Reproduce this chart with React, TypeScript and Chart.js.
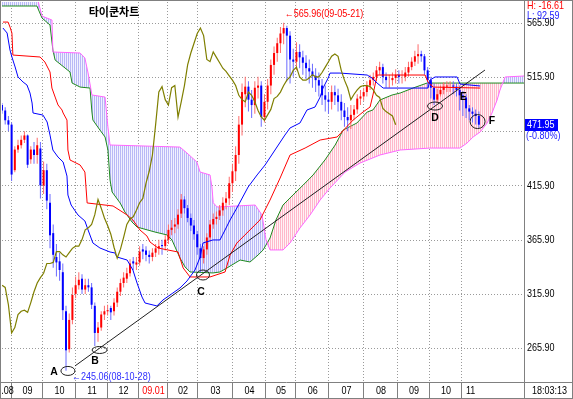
import React, { useEffect, useRef } from 'react';
import { Chart, registerables } from 'chart.js';
Chart.register(...registerables);

// ---------- data ----------
const monthLabels = ['.08', '09', '10', '11', '12', '09.01', '02', '03', '04', '05', '06', '07', '08', '09', '10', '11'];
// period index where each month (from the 2nd label on) begins
const monthStarts = [2.8, 12.5, 22.8, 32.8, 42.5, 51.6, 60.9, 71.9, 82.2, 91.6, 101.9, 112.8, 123.4, 133.4, 143.4];
const yTicks = [265.9, 315.9, 365.9, 415.9, 465.9, 515.9, 565.9];
const hiddenTick = 465.9; // covered by the last-price box

const opens = [
  490, 485, 476, 472, 430, 449, 453, 458, 462, 440,
  449, 444, 450, 416, 430, 400, 372, 350, 346, 336,
  300, 265, 292, 316, 324, 330, 320, 324, 322, 305,
  280, 285, 297, 300, 303, 300, 308, 318, 326, 330,
  335, 346, 343, 345, 357, 356, 352, 350, 354, 358,
  361, 360, 366, 375, 378, 380, 390, 403, 395, 386,
  379, 371, 358, 349, 357, 368, 380, 385, 388, 393,
  400, 404, 418, 429, 444, 472, 500, 507, 495, 490,
  506, 508, 479, 493, 508, 527, 538, 547, 556, 561,
  554, 532, 530, 539, 534, 529, 524, 521, 517, 513,
  508, 499, 495, 493, 502, 499, 493, 485, 479, 476,
  481, 486, 496, 498, 502, 508, 513, 516, 522, 525,
  516, 513, 513, 515, 518, 516, 516, 520, 525, 530,
  535, 537, 535, 522, 513, 506, 495, 500, 504, 507,
  508, 508, 507, 504, 499, 497, 487, 484, 482, 480,
];
const highs = [
  492, 488, 480, 474, 452, 458, 462, 466, 463, 452,
  456, 460, 456, 438, 436, 408, 380, 362, 354, 344,
  305, 298, 322, 332, 336, 334, 330, 330, 326, 308,
  290, 300, 305, 306, 305, 312, 322, 330, 336, 340,
  348, 350, 350, 360, 362, 360, 356, 358, 362, 366,
  366, 370, 380, 384, 386, 394, 408, 406, 398, 390,
  384, 374, 362, 360, 372, 384, 390, 392, 398, 405,
  410, 424, 436, 452, 480, 510, 516, 512, 504, 512,
  516, 512, 500, 514, 532, 544, 552, 562, 565.96, 563,
  558, 542, 548, 546, 540, 536, 532, 528, 524, 520,
  514, 508, 502, 508, 508, 505, 500, 492, 488, 490,
  490, 500, 504, 506, 512, 518, 520, 526, 530, 528,
  520, 518, 520, 523, 522, 522, 525, 530, 534, 540,
  546, 540, 537, 525, 516, 510, 505, 508, 511, 512,
  512, 512, 510, 508, 503, 500, 490, 488, 486, 484,
];
const lows = [
  482, 472, 466, 420, 428, 446, 450, 455, 432, 436,
  436, 436, 404, 408, 394, 358, 340, 332, 328, 292,
  245.06, 262, 288, 312, 320, 316, 316, 318, 302, 268,
  272, 282, 292, 296, 292, 296, 304, 314, 322, 326,
  332, 338, 338, 342, 348, 346, 344, 346, 350, 352,
  352, 356, 362, 370, 372, 376, 386, 390, 382, 374,
  366, 352, 336, 344, 352, 364, 376, 380, 384, 388,
  394, 398, 410, 420, 436, 462, 488, 484, 478, 482,
  496, 470, 474, 486, 500, 518, 530, 538, 546, 512,
  510, 516, 522, 524, 518, 514, 510, 506, 502, 498,
  490, 484, 482, 486, 490, 484, 476, 470, 466, 468,
  476, 482, 490, 494, 498, 504, 508, 512, 518, 510,
  506, 506, 508, 510, 510, 510, 512, 516, 522, 526,
  528, 530, 518, 506, 496, 490, 492, 498, 500, 502,
  502, 500, 498, 485, 480, 478, 476, 474, 472, 469,
];
const closes = [
  485, 476, 472, 426, 449, 453, 458, 462, 435, 449,
  444, 453, 416, 430, 402, 370, 352, 345, 338, 301,
  264, 292, 315, 324, 329, 320, 324, 322, 306, 280,
  285, 297, 300, 301, 299, 308, 318, 326, 331, 335,
  344, 344, 345, 355, 355, 352, 350, 354, 358, 360,
  360, 366, 375, 377, 380, 389, 403, 395, 386, 379,
  371, 359, 349, 357, 368, 380, 385, 387, 393, 400,
  404, 418, 429, 444, 472, 502, 507, 495, 490, 506,
  508, 479, 493, 508, 527, 538, 547, 556, 561, 554,
  532, 530, 539, 534, 529, 524, 521, 517, 513, 508,
  499, 495, 493, 502, 499, 493, 485, 479, 476, 481,
  486, 496, 498, 502, 508, 513, 516, 522, 525, 516,
  513, 513, 515, 518, 516, 516, 520, 525, 530, 535,
  537, 535, 522, 513, 506, 495, 500, 504, 507, 508,
  508, 507, 504, 499, 497, 487, 484, 482, 480, 471.95,
];
const CHIKOU_SHIFT = 26;

const tenkan: [number, number][] = [
  [0.3, 561.0], [1.6, 556.4], [2.5, 540.7], [3.1, 534.3], [4.1, 525.1], [5, 515.9], [6.6, 511.2], [7.8, 508.5],
  [8.75, 501.1], [9.4, 491.9], [9.7, 482.7], [12.8, 480.8], [14.1, 474.4], [15, 462.4], [15.9, 448.6], [17.5, 442.1],
  [19.1, 437.5], [20.3, 424.6], [20.6, 407.1], [21.6, 397.9], [23.75, 388.7], [25.9, 383.2], [26.9, 374.9],
  [28.4, 362.9], [30.6, 358.3], [33.75, 354.6], [35.3, 353.7], [35.9, 350.0], [39.1, 347.2], [40.9, 338.0],
  [42.2, 326.0], [43.75, 313.1], [44.7, 307.6], [48.4, 304.9], [50.3, 310.4], [53.4, 316.8], [55.6, 321.4],
  [57.8, 327.9], [60.3, 338.0], [61.9, 350.0], [62.8, 362.9], [65.9, 365.7], [68.1, 365.7], [69.7, 374.9],
  [71.25, 384.1], [73.4, 395.2], [76.9, 414.5], [79.7, 425.6], [82.2, 434.8], [85.3, 448.6], [88.4, 462.4],
  [90, 468.9], [93.1, 473.5], [95.3, 485.5], [97.8, 488.2], [99.4, 497.4], [100.3, 505.7], [101.9, 514.9],
  [102.5, 519.5], [105.6, 519.5], [114.1, 517.7], [115.6, 514.9], [117.2, 510.3], [119.1, 505.7], [133.1, 505.7],
  [133.75, 513.1], [135.3, 515.9], [142.2, 515.9], [143.1, 509.4], [149.4, 507.6],
];
const kijun: [number, number][] = [
  [0.3, 566.5], [1.9, 566.5], [2.5, 561.9], [3.1, 556.4], [3.4, 536.1], [11.9, 534.3], [13.4, 529.7], [15, 520.5],
  [15.6, 505.7], [16.6, 497.4], [17.5, 490.1], [18.75, 485.5], [19.1, 482.7], [20.3, 476.2], [20.6, 448.6],
  [21.25, 439.4], [24.4, 434.8], [25.9, 428.3], [26.6, 399.8], [34.7, 397.0], [39.1, 388.7], [40.9, 384.1],
  [43.1, 374.9], [45.3, 369.3], [46.25, 363.8], [48.75, 358.3], [55, 354.6], [56.6, 339.9], [58.75, 331.6],
  [65, 331.6], [69.7, 336.2], [71.25, 351.8], [73.4, 362.9], [75.9, 370.3], [80.6, 384.1], [83.75, 402.5],
  [86.9, 422.8], [90, 444.0], [94.7, 450.4], [99.4, 457.8], [104.7, 460.6], [109.7, 476.2], [112.8, 483.6],
  [115, 488.2], [115.9, 499.3], [117.2, 517.7], [132.2, 517.7], [133.1, 511.2], [134.7, 506.6], [149.4, 505.7],
];
const senkouA: [number, number][] = [
  [0, 581.3], [10.9, 581.3], [12.5, 570.2], [15, 563.8], [15.9, 540.7], [16.6, 531.5], [21.25, 520.5], [21.9, 510.3],
  [24.4, 506.6], [27.5, 505.7], [28.1, 483.6], [28.4, 476.2], [30.6, 467.0], [32.2, 460.6], [33.1, 448.6],
  [33.75, 421.0], [34.4, 409.9], [36.9, 399.8], [38.4, 391.5], [40.6, 382.3], [42.2, 377.6], [47.8, 373.0],
  [51.6, 370.3], [53.1, 365.7], [55.6, 349.1], [57.2, 340.8], [58.75, 336.2], [65.9, 335.3], [68.1, 336.2],
  [70.3, 339.9], [74.4, 347.2], [77.5, 345.4], [80, 351.8], [81.6, 356.5], [83.75, 367.5], [85.6, 384.1],
  [87.8, 397.9], [90.9, 407.1], [94.1, 416.3], [97.2, 425.6], [100.9, 439.4], [104.1, 453.2], [106.6, 467.0],
  [110.9, 473.5], [114.1, 483.6], [115.9, 485.5], [118.1, 494.7], [121.9, 499.3], [124.4, 501.1], [128.4, 505.7],
  [132.8, 510.3], [143.1, 510.3], [163.1, 510.3],
];
const senkouB: [number, number][] = [
  [0, 586], [11.25, 586], [12.5, 572], [15.6, 568.4], [15.9, 538.9], [24.4, 538.0], [25.9, 533.4], [26.9, 519.5],
  [28.1, 499.3], [32.2, 497.4], [33.1, 469.8], [33.75, 453.2], [55.6, 451.3], [57.8, 445.8], [60.9, 437.5],
  [61.9, 428.3], [65, 425.6], [65.6, 414.5], [66, 400], [67.2, 396.1], [79.1, 397.9], [81.25, 388.7], [82.5, 365.7],
  [83.75, 356.5], [87.8, 356.5], [90, 362.9], [93.1, 376.7], [96.25, 388.7], [99.4, 402.5], [102.5, 413.6],
  [107.2, 428.3], [111.9, 436.6], [118.1, 444.0], [124.4, 448.6], [133.75, 450.4], [143.1, 450.4], [145.3, 455.0],
  [147.2, 460.6], [149.4, 465.2], [151.6, 473.5], [153.1, 482.7], [154.7, 494.7], [155.6, 503.9], [157.2, 515.9],
  [163.1, 516.8],
];

// annotations (data coordinates)
const trendLine: [number, number][] = [[22.8, 249.6], [150.9, 522.3]];
const markerPoints: { label: string; at: [number, number]; rx: number; ry: number; text: [number, number] }[] = [
  { label: 'A', at: [20.6, 245.0], rx: 7, ry: 4.5, text: [16.25, 244.0] },
  { label: 'B', at: [30.5, 264.3], rx: 7.5, ry: 3.5, text: [29.1, 254.2] },
  { label: 'C', at: [62.8, 333.4], rx: 6.5, ry: 5, text: [62.2, 317.8] },
  { label: 'D', at: [135.3, 489.1], rx: 7.5, ry: 4, text: [135.3, 478.1] },
  { label: 'E', at: [144.1, 497.4], rx: 0, ry: 0, text: [144.1, 497.4] },
  { label: 'F', at: [148.6, 474.8], rx: 7.5, ry: 7, text: [153.1, 475.3] },
];
const highNote = { text: '\u2190565.96(09-05-21)', at: [88.0, 565.96] as [number, number] };
const lowNote = { text: '\u2190245.06(08-10-28)', at: [20.6, 245.06] as [number, number] };
const lastPrice = '471.95';
const lastChange = '(-0.80%)';
const hText = 'H: -16.61';
const lText = 'L: 92.59';
const timeText = '18:03:13';
const title = '타이쿤차트';

const X_MAX = 163.1;
const Y_MIN = 234.8;
const Y_MAX = 585;

const FAMILY = '"Liberation Sans", Arial, sans-serif';
const SX = 0.82; // horizontal squeeze to mimic the narrow bitmap font
const UP = '#ff0000';
const DOWN = '#0000ff';
const UP_WICK = '#ff6a6a';
const DOWN_WICK = '#6a6aff';

function txt(ctx: CanvasRenderingContext2D, s: string, x: number, y: number, color: string, align: CanvasTextAlign = 'left', size = 11, bold = false, sx = SX) {
  ctx.save();
  ctx.fillStyle = color;
  ctx.font = `${bold ? 'bold ' : ''}${size}px ${FAMILY}`;
  ctx.textBaseline = 'middle';
  ctx.textAlign = align;
  ctx.translate(x, y);
  ctx.scale(sx, 1);
  ctx.fillText(s, 0, 0);
  ctx.restore();
}

export default function App() {
  const ref = useRef<HTMLCanvasElement | null>(null);

  useEffect(() => {
    document.body.style.margin = '0';
    const canvas = ref.current!;
    const c2d = canvas.getContext('2d')!;

    const makePattern = (a: string, b: string) => {
      const p = document.createElement('canvas');
      p.width = 2;
      p.height = 2;
      const g = p.getContext('2d')!;
      g.fillStyle = b;
      g.fillRect(0, 0, 2, 2);
      g.fillStyle = a;
      g.fillRect(0, 0, 1, 2);
      return c2d.createPattern(p, 'repeat')!;
    };
    const pinkPat = makePattern('#ffb8ca', '#fff2f6');
    const bluePat = makePattern('#b8b8f6', '#f0f0ff');

    const pts = (arr: [number, number][]) => arr.map(([x, y]) => ({ x, y }));

    const gridPlugin = {
      id: 'gridDots',
      beforeDatasetsDraw(chart: any) {
        const { ctx, chartArea: a, scales } = chart;
        const x = scales.x, y = scales.y;
        ctx.save();
        ctx.strokeStyle = '#9a9a9a';
        ctx.lineWidth = 1;
        ctx.setLineDash([1, 2]);
        yTicks.forEach((v) => {
          const py = Math.round(y.getPixelForValue(v)) + 0.5;
          ctx.beginPath();
          ctx.moveTo(a.left, py);
          ctx.lineTo(a.right, py);
          ctx.stroke();
        });
        monthStarts.forEach((m) => {
          const px = Math.round(x.getPixelForValue(m)) + 0.5;
          ctx.beginPath();
          ctx.moveTo(px, a.top);
          ctx.lineTo(px, a.bottom);
          ctx.stroke();
        });
        ctx.restore();
      },
    };

    const overlayPlugin = {
      id: 'overlay',
      afterDraw(chart: any) {
        const { ctx, chartArea: a, scales, width, height } = chart;
        const x = scales.x, y = scales.y;
        const P = (d: number) => x.getPixelForValue(d);
        const V = (v: number) => y.getPixelForValue(v);
        ctx.save();

        // trend line
        ctx.strokeStyle = '#202020';
        ctx.lineWidth = 1;
        ctx.beginPath();
        ctx.moveTo(P(trendLine[0][0]), V(trendLine[0][1]));
        ctx.lineTo(P(trendLine[1][0]), V(trendLine[1][1]));
        ctx.stroke();

        // ellipses + letters
        markerPoints.forEach((m) => {
          if (m.rx > 0) {
            ctx.beginPath();
            ctx.ellipse(P(m.at[0]), V(m.at[1]), m.rx, m.ry, 0, 0, Math.PI * 2);
            ctx.stroke();
          }
          txt(ctx, m.label, P(m.text[0]), V(m.text[1]), '#000', 'center', 11, true, 0.95);
        });

        // high / low notes
        txt(ctx, highNote.text, P(highNote.at[0]) + 1, V(highNote.at[1]) - 9, '#ff0000');
        txt(ctx, lowNote.text, P(lowNote.at[0]) + 4, V(lowNote.at[1]) + 6, '#3030ff');

        // title
        ctx.fillStyle = '#000';
        ctx.font = 'bold 11px "Noto Sans CJK KR", sans-serif';
        ctx.textAlign = 'center';
        ctx.textBaseline = 'middle';
        ctx.fillText(title, 114, 12);

        // frame
        ctx.strokeStyle = '#808080';
        ctx.setLineDash([]);
        ctx.beginPath();
        ctx.moveTo(0, a.bottom + 0.5);
        ctx.lineTo(width, a.bottom + 0.5);
        ctx.moveTo(a.right + 0.5, 0);
        ctx.lineTo(a.right + 0.5, height);
        ctx.stroke();
        ctx.strokeRect(0.5, 0.5, width - 1, height - 1);
        ctx.beginPath();
        monthStarts.forEach((m) => {
          const px = Math.round(P(m)) + 0.5;
          ctx.moveTo(px, a.bottom);
          ctx.lineTo(px, height);
        });
        ctx.stroke();

        // month labels
        const by = a.bottom + 8.5;
        monthLabels.forEach((lab, i) => {
          const col = lab === '09.01' ? '#ff0000' : '#000';
          if (i === monthLabels.length - 1) {
            txt(ctx, lab, P(monthStarts[i - 1]) + 5, by, col, 'left');
            return;
          }
          const l = i === 0 ? a.left : P(monthStarts[i - 1]);
          const r = P(monthStarts[i]);
          txt(ctx, lab, (l + r) / 2 + 1, by, col, 'center');
        });

        // y tick labels
        yTicks.forEach((v) => {
          if (Math.abs(v - hiddenTick) < 0.01) return;
          txt(ctx, v.toFixed(2), a.right + 3, V(v), '#000');
        });

        // right panel
        txt(ctx, hText, a.right + 3, 6, '#ff0000');
        txt(ctx, lText, a.right + 3, 16, '#2020ff');
        const lp = V(closes[closes.length - 1]);
        ctx.fillStyle = '#0000ff';
        ctx.fillRect(a.right + 1, Math.round(lp) - 6, 33, 12);
        txt(ctx, lastPrice, a.right + 3, lp, '#ffffff');
        txt(ctx, lastChange, a.right + 2, lp + 11, '#2020ff');
        txt(ctx, timeText, (a.right + width) / 2 + 1, by, '#000', 'center');

        ctx.restore();
      },
    };

    const bodyColor = (c: any) => {
      const i = c.dataIndex;
      return closes[i] >= opens[i] ? UP : DOWN;
    };
    const wickColor = (c: any) => {
      const i = c.dataIndex;
      return closes[i] >= opens[i] ? UP_WICK : DOWN_WICK;
    };

    const chart = new Chart(canvas, {
      type: 'line',
      data: {
        datasets: [
          {
            type: 'line',
            data: pts(senkouA),
            borderColor: '#1f8a1f',
            borderWidth: 1,
            pointRadius: 0,
            fill: { target: 1, above: pinkPat, below: bluePat } as any,
            order: 10,
          },
          {
            type: 'line',
            data: pts(senkouB),
            borderColor: '#ff66ff',
            borderWidth: 1,
            pointRadius: 0,
            fill: false,
            order: 9,
          },
          {
            type: 'bar',
            data: highs.map((h, i) => ({ x: i, y: [lows[i], h] })) as any,
            backgroundColor: wickColor as any,
            barThickness: 1,
            inflateAmount: 0,
            grouped: false,
            borderWidth: 0,
            order: 6,
          } as any,
          {
            type: 'bar',
            data: opens.map((o, i) => ({ x: i, y: [o, closes[i]] })) as any,
            backgroundColor: bodyColor as any,
            barThickness: 2,
            inflateAmount: 0,
            grouped: false,
            borderWidth: 0,
            order: 5,
          } as any,
          {
            type: 'line',
            data: pts(kijun),
            borderColor: '#ff0000',
            borderWidth: 1,
            pointRadius: 0,
            fill: false,
            order: 3,
          },
          {
            type: 'line',
            data: pts(tenkan),
            borderColor: '#0000ff',
            borderWidth: 1,
            pointRadius: 0,
            fill: false,
            order: 2,
          },
          {
            type: 'line',
            data: closes.slice(CHIKOU_SHIFT).map((c, i) => ({ x: i, y: c })),
            borderColor: '#7f7f00',
            borderWidth: 1.2,
            pointRadius: 0,
            fill: false,
            order: 1,
          },
        ],
      },
      options: {
        animation: false,
        responsive: false,
        devicePixelRatio: 1,
        events: [],
        layout: { padding: { left: 2, top: 2, right: 0, bottom: 17 } },
        plugins: { legend: { display: false }, tooltip: { enabled: false } },
        elements: { line: { tension: 0 }, point: { radius: 0 } },
        scales: {
          x: { type: 'linear', min: 0, max: X_MAX, display: false, offset: false },
          y: {
            type: 'linear',
            position: 'right',
            min: Y_MIN,
            max: Y_MAX,
            grid: { display: false },
            border: { display: false },
            afterBuildTicks: (s: any) => {
              s.ticks = yTicks.map((v) => ({ value: v }));
            },
            afterFit: (s: any) => {
              s.width = 49;
            },
            ticks: { display: false },
          },
        },
      } as any,
      plugins: [gridPlugin, overlayPlugin],
    });

    return () => chart.destroy();
  }, []);

  return (
    <div style={{ width: 573, height: 399 }}>
      <canvas ref={ref} width={573} height={399} style={{ display: 'block' }} />
    </div>
  );
}
